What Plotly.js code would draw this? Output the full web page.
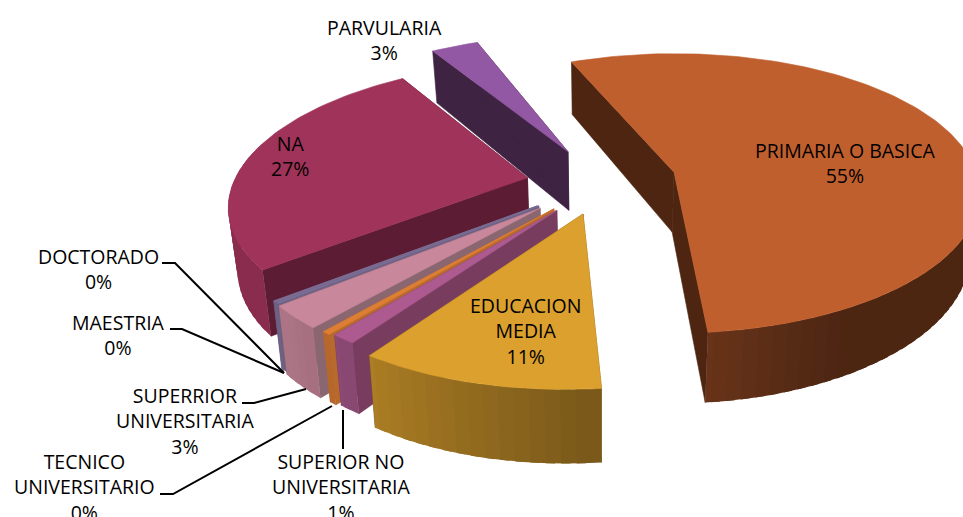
<!DOCTYPE html>
<html><head><meta charset="utf-8">
<script src="https://cdn.plot.ly/plotly-3.0.1.min.js"></script>
<style>html,body{margin:0;padding:0;background:#fff}#c{width:963px;height:517px}</style>
</head><body><div id="c"></div>
<script>
// ---- data (percent shares, clockwise from the first slice)
const categories = ["PARVULARIA","PRIMARIA O BASICA","EDUCACION<br>MEDIA","SUPERIOR NO<br>UNIVERSITARIA","TECNICO<br>UNIVERSITARIO","SUPERRIOR<br>UNIVERSITARIA","MAESTRIA","DOCTORADO","NA"];
const values = [2.8,54.8,10.9,1.2,0.4,2.9,0.15,0.15,26.7];
// ---- style
const topColors  = ["#9358A3","#C05F2E","#DBA02E","#AC5A8F","#DD7E35","#C8879B","#7D6E96","#7D6E96","#A03359"];
const sideColors = ["#3E2442","#4E2511","#7A5B1E","#783C5F","#B8692C","#8A6670","#6E6285","#6E6285","#5C1C33"];
const explodeX = [-0.383,-0.02,-0.31,-0.395,-0.405,-0.45,-0.455,-0.46,-0.507];
const explodeV = [ 0.175, 0.02,-0.275,-0.25,-0.24 ,-0.235,-0.22,-0.22,-0.02];
const radiusScale = [1.05,1.01,1,0.95,0.96,0.94,0.94,0.94,0.97];
const labelX = [384,845,525,341,84,185,118,98,290];
const labelY = [40,163,331,487,487,421,335,269,156];
const drawOrder = [0,8,7,6,5,4,3,2,1];
const firstAngle = -33;
const cam = {xc:680,yc:175,R:300,a:136,k:0.15,h:60,nx:600,nf:0.025};

function proj(X,V){const s=1/(1+cam.k*V);return [cam.xc+cam.R*X*s,cam.yc-cam.a*V*s,s];}
function down(p){return [p[0]+(cam.nx-p[0])*cam.nf,p[1]+cam.h*p[2]];}
function rgb(h){return [1,3,5].map(i=>parseInt(h.substr(i,2),16));}
function scale(h,f){return 'rgb('+rgb(h).map(c=>Math.round(Math.min(255,c*f))).join(',')+')';}

const total = values.reduce((a,b)=>a+b,0);
const traces = [];
function poly(pts,color,w){
  traces.push({type:'scatter',mode:'lines',x:pts.map(p=>p[0]),y:pts.map(p=>p[1]),fill:'toself',fillcolor:color,
    line:{color:color,width:w===undefined?0.6:w},hoverinfo:'skip',showlegend:false});
}
const starts=[];let acc=firstAngle;
values.forEach(v=>{starts.push(acc);acc+=v/total*360;});
drawOrder.forEach(i=>{
  const a0=starts[i],a1=a0+values[i]/total*360;
  const ox=explodeX[i],ov=explodeV[i],rs=radiusScale[i];
  const pt=a=>{const r=a*Math.PI/180;return proj(ox+rs*Math.sin(r),ov+rs*Math.cos(r));};
  const apex=proj(ox,ov);
  // radial walls
  [a0,a1].forEach(a=>{const p=pt(a);poly([apex,p,down(p),down(apex),apex],sideColors[i]);});
  // rim, shaded strip by strip with the angle; each strip overlaps the next so no seams show
  const n=Math.max(1,Math.ceil((a1-a0)/2.5));
  const step=(a1-a0)/n;
  for(let j=n-1;j>=0;j--){
    const b0=a0+step*j,b1=a0+step*(j+1),m=(b0+b1)/2;
    if(Math.cos(m*Math.PI/180)>0.2) continue;
    const na=m<0?m+360:m;
    const t=Math.max(0,Math.min(1,(na-150)/75));
    const f=0.4+0.46*t;
    const c=scale(topColors[i],f);
    const b2=j===n-1?b1:b1+step*0.6;
    const pts=[];
    for(let q=0;q<=2;q++)pts.push(pt(b0+(b2-b0)*q/2));
    const lower=pts.slice().reverse().map(down);
    const all=pts.concat(lower);all.push(pts[0]);
    poly(all,c,0);
  }
  // top face
  const top=[apex];const k=Math.ceil((a1-a0)/1.5)+1;
  for(let j=0;j<=k;j++) top.push(pt(a0+(a1-a0)*j/k));
  top.push(apex);
  poly(top,topColors[i]);
});
// leader lines
const leaders=[
 [[162,263],[175,263],[284,373]],
 [[170,329],[182,329],[284,373]],
 [[242,403],[254,403],[306,389]],
 [[160,494],[173,494],[332,406]],
 [[343,410],[343,449]]
];
leaders.forEach(l=>traces.push({type:'scatter',mode:'lines',x:l.map(p=>p[0]),y:l.map(p=>p[1]),line:{color:'#000',width:2},hoverinfo:'skip',showlegend:false}));

const annotations=categories.map((c,i)=>({x:labelX[i],y:labelY[i],xref:'x',yref:'y',showarrow:false,xanchor:'center',yanchor:'middle',align:'center',
  text:c+'<br>'+Math.round(values[i]/total*100)+'%',font:{family:'"Open Sans",sans-serif',size:19.5,color:'#000'}}));

Plotly.newPlot('c',traces,{
  width:963,height:517,margin:{l:0,r:0,t:0,b:0},paper_bgcolor:'#fff',plot_bgcolor:'#fff',showlegend:false,
  xaxis:{range:[0,963],visible:false,fixedrange:true},
  yaxis:{range:[517,0],visible:false,fixedrange:true},
  annotations:annotations
},{displayModeBar:false,staticPlot:true});
</script></body></html>
